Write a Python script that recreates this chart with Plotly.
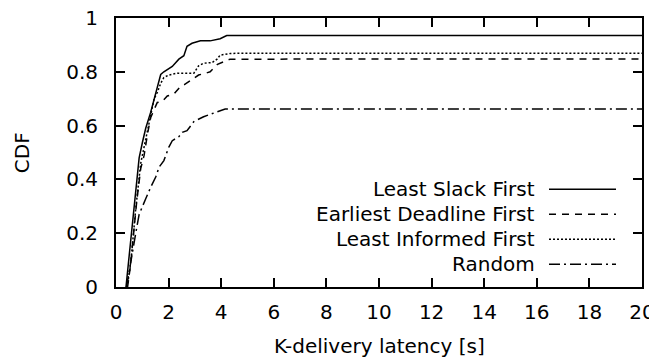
import plotly.graph_objects as go

# ---- data ----
lsf_x = [0.38, 0.50, 0.63, 0.75, 0.88, 1.01, 1.13, 1.32, 1.45, 1.57, 1.70, 1.82, 2.14, 2.39, 2.58, 2.70, 2.89, 3.21, 3.58, 3.96, 4.21, 20]
lsf_y = [0, 0.11, 0.24, 0.36, 0.48, 0.54, 0.59, 0.65, 0.70, 0.74, 0.79, 0.80, 0.82, 0.847, 0.86, 0.895, 0.906, 0.915, 0.915, 0.923, 0.935, 0.935]

edf_x = [0.44, 0.55, 0.65, 0.79, 0.94, 1.07, 1.20, 1.32, 1.45, 1.57, 1.76, 1.95, 2.20, 2.45, 2.60, 2.98, 3.14, 3.48, 3.58, 3.86, 4.09, 4.34, 20]
edf_y = [0, 0.08, 0.18, 0.32, 0.44, 0.49, 0.57, 0.63, 0.66, 0.686, 0.69, 0.71, 0.717, 0.745, 0.752, 0.779, 0.788, 0.797, 0.80, 0.828, 0.837, 0.847, 0.848]

lif_x = [0.42, 0.52, 0.59, 0.75, 0.94, 1.07, 1.20, 1.32, 1.45, 1.57, 1.70, 1.82, 2.01, 2.33, 2.96, 3.14, 3.33, 3.65, 3.84, 3.96, 4.34, 4.65, 20]
lif_y = [0, 0.06, 0.12, 0.29, 0.46, 0.52, 0.58, 0.64, 0.70, 0.723, 0.757, 0.779, 0.788, 0.795, 0.795, 0.822, 0.832, 0.834, 0.847, 0.862, 0.868, 0.869, 0.869]

rnd_x = [0.40, 0.57, 0.69, 0.75, 0.88, 0.94, 1.13, 1.32, 1.51, 1.64, 1.82, 2.01, 2.14, 2.39, 2.52, 2.70, 2.96, 3.33, 3.77, 4.15, 20]
rnd_y = [0, 0.09, 0.16, 0.20, 0.27, 0.285, 0.328, 0.371, 0.409, 0.446, 0.47, 0.52, 0.544, 0.559, 0.575, 0.581, 0.615, 0.633, 0.649, 0.662, 0.662]

series_names = ["Least Slack First", "Earliest Deadline First", "Least Informed First", "Random"]
series_x = [lsf_x, edf_x, lif_x, rnd_x]
series_y = [lsf_y, edf_y, lif_y, rnd_y]
dashes = ["solid", "7px,6px", "2px,2px", "11px,4px,2px,4px"]

x_ticks = [0, 2, 4, 6, 8, 10, 12, 14, 16, 18, 20]
y_ticks = [0, 0.2, 0.4, 0.6, 0.8, 1]
y_ticktext = ["0", "0.2", "0.4", "0.6", "0.8", "1"]

FONT = "DejaVu Sans"
OFF = 8  # default page body margin
W, H = 649, 350
L, T = 108, 10
pw, ph = 526, 269
R, B = W - L - pw, H - T - ph


def px_x(page_x):
    return (page_x - OFF - L) / pw


def px_y(page_y):
    return (T + ph - (page_y - OFF)) / ph


fig = go.Figure()
for name, xs, ys, d in zip(series_names, series_x, series_y, dashes):
    fig.add_trace(go.Scatter(x=xs, y=ys, mode="lines", name=name,
                             line=dict(color="black", width=1.5, dash=d),
                             showlegend=False))

# gnuplot-style key: right-aligned text with line sample to its right
key_top_px = 189.3
key_step_px = 25
text_right_px = 537
sample_l_px, sample_r_px = 549, 616
shapes = []
annotations = []
for i, (name, d) in enumerate(zip(series_names, dashes)):
    yp = px_y(key_top_px + i * key_step_px)
    annotations.append(dict(x=px_x(text_right_px), y=yp, xref="paper", yref="paper",
                            text=name, showarrow=False, xanchor="right", yanchor="middle",
                            font=dict(family=FONT, size=20, color="black")))
    shapes.append(dict(type="line", xref="paper", yref="paper",
                       x0=px_x(sample_l_px), x1=px_x(sample_r_px), y0=yp, y1=yp,
                       line=dict(color="black", width=1.5, dash=d)))

# axis titles
annotations.append(dict(x=0.5, y=px_y(346), xref="paper", yref="paper",
                        text="K-delivery latency [s]", showarrow=False,
                        xanchor="center", yanchor="middle",
                        font=dict(family=FONT, size=20, color="black")))
annotations.append(dict(x=px_x(21.7), y=0.5, xref="paper", yref="paper",
                        text="CDF", showarrow=False, textangle=-90,
                        xanchor="center", yanchor="middle",
                        font=dict(family=FONT, size=20, color="black")))

fig.update_layout(
    width=W, height=H,
    margin=dict(l=L, r=R, t=T, b=B, pad=0, autoexpand=False),
    paper_bgcolor="white", plot_bgcolor="white",
    font=dict(family=FONT, size=20, color="black"),
    shapes=shapes, annotations=annotations,
    showlegend=False,
)
fig.update_xaxes(range=[0, 20], tickvals=x_ticks, ticks="inside", ticklen=9, tickwidth=1.5,
                 tickcolor="black", showline=True, linecolor="black", linewidth=2,
                 mirror="ticks", showgrid=False, zeroline=False, ticklabelstandoff=6,
                 automargin=False, ticklabeloverflow="allow",
                 tickfont=dict(family=FONT, size=20, color="black"))
fig.update_yaxes(range=[0, 1], tickvals=y_ticks, ticktext=y_ticktext, ticks="inside", ticklen=9,
                 tickwidth=1.5, tickcolor="black", showline=True, linecolor="black", linewidth=2,
                 mirror="ticks", showgrid=False, zeroline=False, ticklabelstandoff=12,
                 automargin=False, ticklabeloverflow="allow",
                 tickfont=dict(family=FONT, size=20, color="black"))

fig.write_html("out.html")
